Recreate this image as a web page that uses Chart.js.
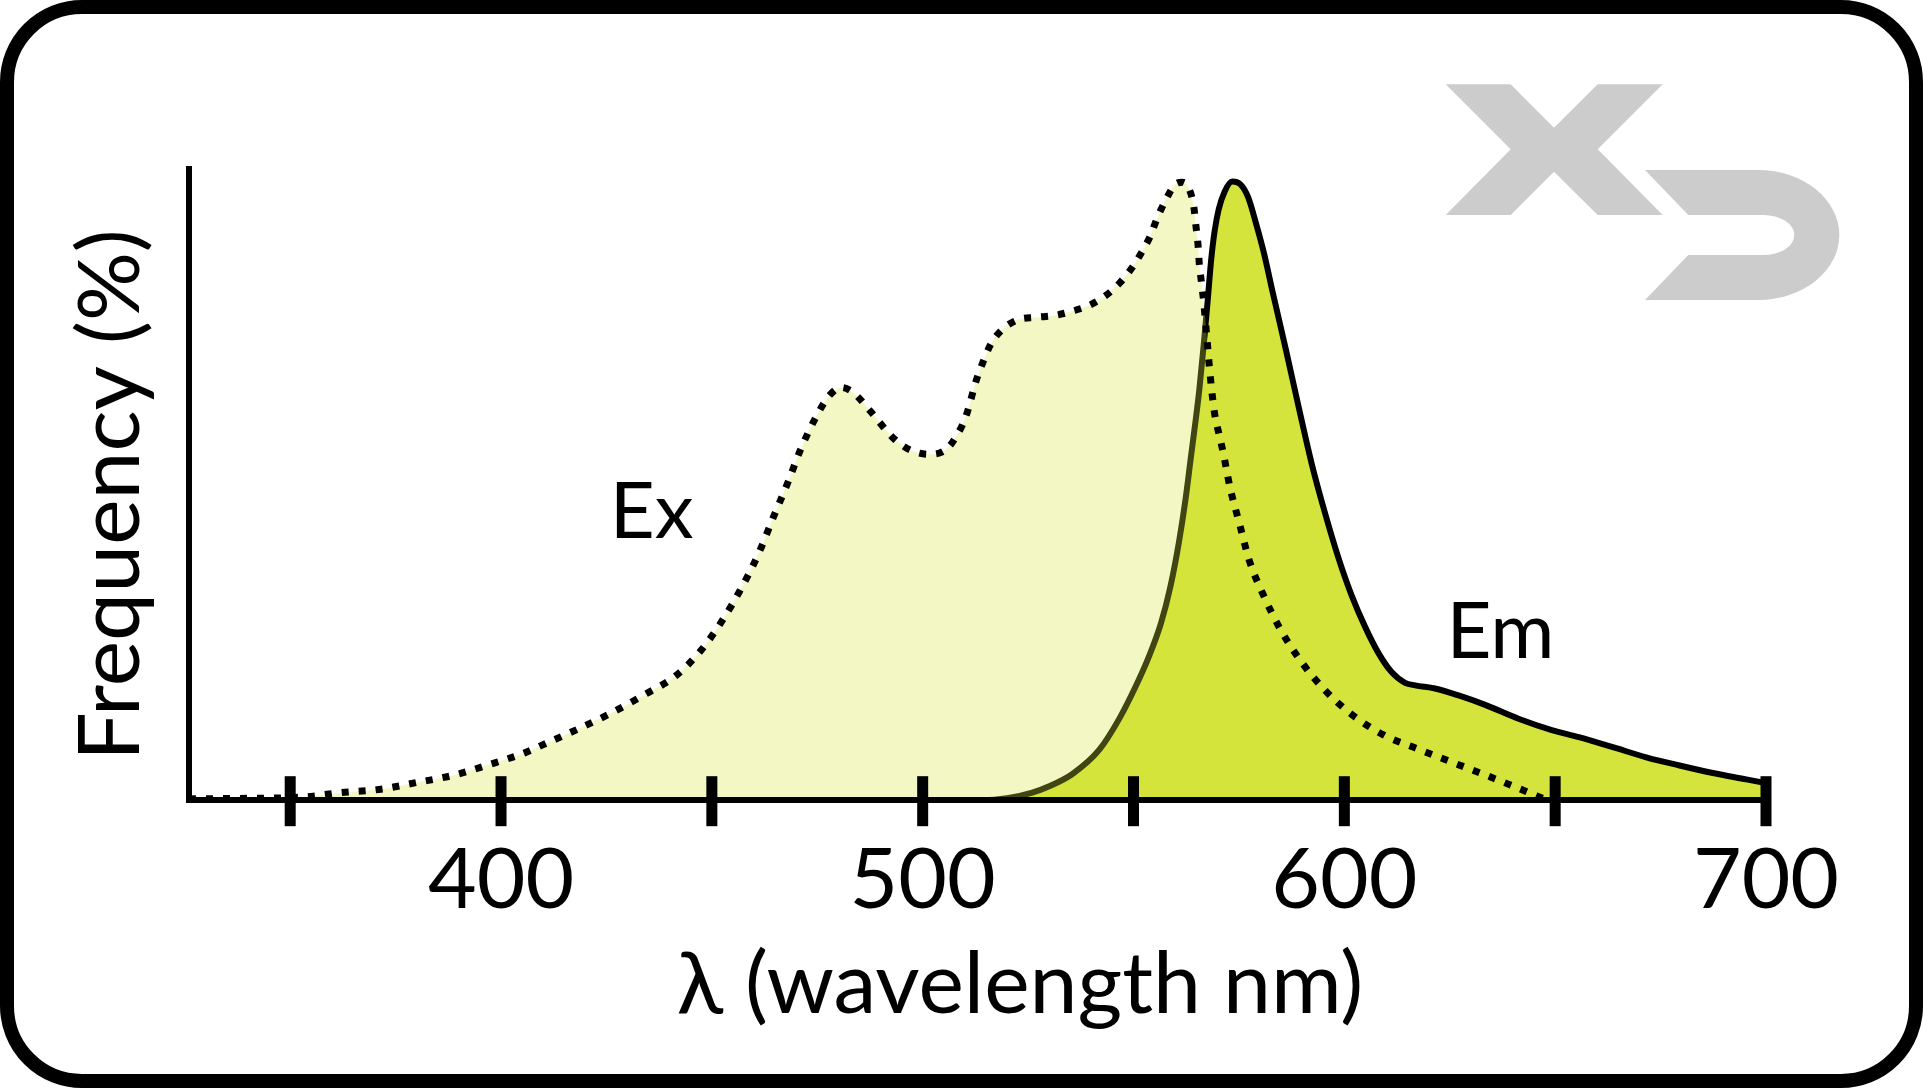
<!DOCTYPE html>
<html>
<head>
<meta charset="utf-8">
<script src="https://cdn.jsdelivr.net/npm/chart.js@4.4.1/dist/chart.umd.min.js"></script>
<style>
  html, body { margin: 0; padding: 0; background: #fff; }
  #wrap { position: relative; width: 1923px; height: 1088px; overflow: hidden; }
  #c { position: absolute; left: 0; top: 0; }
  #logo { position: absolute; left: 0; top: 0; pointer-events: none; }
  #frame { position: absolute; left: 0; top: 0; width: 1923px; height: 1088px; box-sizing: border-box;
           border: 14px solid #000; border-radius: 82px; pointer-events: none; }
</style>
</head>
<body>
<div id="wrap">
  <svg id="logo" width="1923" height="1088" viewBox="0 0 1923 1088">
    <path fill="#cccccc" d="M1445.7,84.3 L1510.7,84.3 L1554,127.7 L1597.7,84.3 L1662.7,84.3 L1597.7,149.3 L1662.7,215 L1597.7,215 L1554,171.7 L1510.7,215 L1445.7,215 L1510.7,149.3 Z"/>
    <path fill="#cccccc" d="M1645,170 L1758.3,170 A81,65 0 0 1 1758.3,300 L1645,300 L1688.3,255 L1763.3,255 A31,20 0 0 0 1763.3,215 L1688.3,215 Z"/>
  </svg>
  <canvas id="c" width="1923" height="1088"></canvas>
  <div id="frame"></div>
</div>
<script>
// ---- Data ----
const exWavelength = [326, 340, 353, 362, 371, 380, 389, 397, 405.6, 410, 418, 425.8, 433.7, 441.6, 447.5, 452.6, 457.4, 461.3, 464.5, 468, 471.2, 475.1, 478, 480.7, 483.5, 487.5, 493.3, 497.3, 501.7, 505.6, 508.3, 510.3, 512.7, 514.3, 516.2, 518.6, 522.5, 526.9, 531.3, 535.6, 539.5, 543.5, 546.8, 549.6, 552, 554, 555.6, 557.5, 559.8, 561.6, 563.2, 564.3, 564.8, 565.3, 565.6, 566.1, 566.6, 567.4, 568.2, 569.2, 570.2, 571.2, 572.9, 575.1, 577.4, 580.8, 584.8, 589.5, 595.3, 601.9, 609.4, 617.5, 626, 634.2, 642.7, 647];
const exValue = [0.2, 0.3, 0.5, 1.2, 1.7, 2.8, 4.0, 5.6, 7.5, 8.8, 11.2, 13.7, 16.6, 19.8, 23.8, 28.6, 34.1, 39.4, 44.7, 50.3, 55.8, 61.2, 64.2, 65.4, 64.6, 61.7, 57.2, 55.4, 54.8, 55.6, 58.0, 60.9, 66.5, 69.4, 72.3, 74.4, 76.1, 76.5, 76.8, 77.5, 78.4, 80.0, 82.0, 84.3, 86.9, 89.4, 92.2, 94.9, 97.5, 97.9, 96.8, 94.0, 91.0, 88.0, 85.0, 82.1, 79.2, 73.3, 67.2, 61.4, 58.2, 55.3, 49.5, 43.9, 38.1, 32.5, 27.1, 22.2, 17.5, 13.5, 10.3, 8.1, 5.9, 3.8, 1.5, 0.3];

const emWavelength = [326, 514, 520, 526, 530, 535.6, 541.9, 546.7, 550.5, 553.5, 556.5, 558.8, 560.8, 562.3, 563.6, 564.7, 565.6, 566.7, 567.6, 568.4, 569.2, 570.2, 571.6, 573.4, 575.3, 577.2, 579, 581, 583, 586.2, 589.2, 592.3, 595.5, 598.6, 601.7, 604.9, 608.1, 611.2, 614.4, 616.8, 621.5, 627.1, 633.4, 641.3, 649.2, 655.6, 663.7, 671.6, 679.5, 687.4, 695.3, 700];
const emValue = [0, 0, 0.3, 1.2, 2.2, 4.2, 8.0, 13.0, 18, 22.5, 28, 34, 41, 47.5, 54.3, 60, 65, 72.5, 79.2, 85.5, 90, 93.6, 96.4, 98.0, 97.6, 95.5, 91.5, 86.5, 80.5, 71.2, 62.2, 53.2, 45.3, 38.4, 32.5, 27.5, 23.3, 20.3, 18.6, 18.2, 17.7, 16.6, 15.1, 12.9, 11.1, 10.0, 8.4, 6.8, 5.5, 4.3, 3.3, 2.7];

const xTicks = [350, 400, 450, 500, 550, 600, 650, 700];
const xTickLabels = ['', '400', '', '500', '', '600', '', '700'];

const seriesNames = ['Ex', 'Em'];
const seriesLabelWavelength = [425.8, 624.2];
const seriesLabelValue = [41.5, 22.6];

const xTitle = 'λ (wavelength nm)';
const yTitle = 'Frequency (%)';

// ---- Chart ----
const FONT = 'Lato, "Open Sans", sans-serif';

const toPoints = (xs, ys) => xs.map((x, i) => ({ x: x, y: ys[i] }));

const tickMarks = {
  id: 'tickMarks',
  beforeDatasetDraw(chart, args) {
    if (args.index !== 0) return; // drawn between Em (below) and Ex (on top)
    const ctx = chart.ctx;
    const xs = chart.scales.x, ys = chart.scales.y;
    const base = ys.getPixelForValue(0);
    ctx.save();
    ctx.fillStyle = '#000';
    xTicks.forEach(v => {
      const px = xs.getPixelForValue(v);
      ctx.fillRect(px - 5.5, base - 24, 11, 50);
    });
    ctx.restore();
  }
};

const texts = {
  id: 'texts',
  afterDraw(chart) {
    const ctx = chart.ctx;
    const xs = chart.scales.x, ys = chart.scales.y;
    ctx.save();
    ctx.fillStyle = '#000';
    ctx.textBaseline = 'alphabetic';
    ctx.font = '78px ' + FONT;
    ctx.textAlign = 'left';
    seriesNames.forEach((t, i) => {
      ctx.fillText(t, xs.getPixelForValue(seriesLabelWavelength[i]), ys.getPixelForValue(seriesLabelValue[i]));
    });
    ctx.font = '86px ' + FONT;
    ctx.textAlign = 'center';
    ctx.fillText(xTitle, 1020, 1013);
    ctx.translate(139, 495);
    ctx.rotate(-Math.PI / 2);
    ctx.fillText(yTitle, 0, 0);
    ctx.restore();
  }
};

new Chart(document.getElementById('c'), {
  type: 'line',
  data: {
    datasets: [
      {
        label: 'Ex',
        data: toPoints(exWavelength, exValue),
        borderColor: '#000',
        borderWidth: 7,
        borderDash: [7, 10],
        borderCapStyle: 'butt',
        backgroundColor: 'rgba(212,228,60,0.3)',
        fill: 'origin',
        pointRadius: 0,
        cubicInterpolationMode: 'monotone'
      },
      {
        label: 'Em',
        data: toPoints(emWavelength, emValue),
        borderColor: '#000',
        borderWidth: 6,
        borderJoinStyle: 'round',
        backgroundColor: 'rgb(212,228,60)',
        fill: 'origin',
        pointRadius: 0,
        cubicInterpolationMode: 'monotone'
      }
    ]
  },
  options: {
    responsive: false,
    animation: false,
    events: [],
    layout: { padding: { left: 189, right: 157, top: 169, bottom: 127 } },
    plugins: { legend: { display: false }, tooltip: { enabled: false }, title: { display: false } },
    scales: {
      x: {
        type: 'linear',
        min: 326,
        max: 700,
        afterBuildTicks(scale) { scale.ticks = xTicks.map(v => ({ value: v })); },
        grid: { display: false, drawTicks: false },
        border: { display: true, color: '#000', width: 6, z: 1 },
        ticks: {
          autoSkip: false,
          maxRotation: 0,
          padding: 30,
          color: '#000',
          font: { family: FONT, size: 84 },
          callback(value) { const i = xTicks.indexOf(value); return i >= 0 ? xTickLabels[i] : ''; }
        }
      },
      y: {
        type: 'linear',
        min: 0,
        max: 100,
        grid: { display: false, drawTicks: false },
        border: { display: true, color: '#000', width: 6, z: 1 },
        ticks: { display: false }
      }
    }
  },
  plugins: [tickMarks, texts]
});
</script>
</body>
</html>
